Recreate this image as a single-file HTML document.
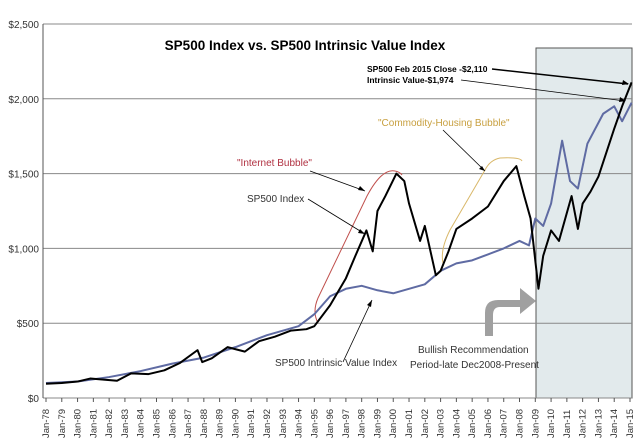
<!DOCTYPE html>
<html><head><meta charset="utf-8"><style>
body{margin:0;background:#fff}
svg{display:block;font-family:"Liberation Sans",sans-serif}
</style></head><body>
<svg id="c" width="640" height="440">
<rect x="0" y="0" width="640" height="440" fill="#fff"/>
<rect x="536" y="48" width="96" height="350" fill="#e2eaec" stroke="#555" stroke-width="1"/>
<g id="grid"></g>
<g id="axes"></g>
<path d="M485,343 L485,320 Q485,307 498,307 L520,307 L520,295 L536,308 L520,321 L520,314 L500,314 Q493,314 493,322 L493,343 Z" transform="translate(0,-7)" fill="#a0a0a0"/>
<path d="M318,323 Q312,312 318,298 L367,196 Q382,168 395,171 Q400,172 402,175" fill="none" stroke="#c0504d" stroke-width="1"/>
<path d="M443,263 Q440,250 450,230 L485,170 Q490,160 500,158 Q520,157 522,161" fill="none" stroke="#d9b86a" stroke-width="1"/>
<g id="series"></g>
<text x="305" y="50" text-anchor="middle" font-size="13.5" font-weight="bold">SP500 Index vs. SP500 Intrinsic Value Index</text>
<text x="237" y="166" font-size="10" fill="#b03040">"Internet Bubble"</text>
<text x="378" y="126" font-size="10" fill="#c8a040">"Commodity-Housing Bubble"</text>
<text x="247" y="202" font-size="10" fill="#333">SP500 Index</text>
<text x="275" y="366" font-size="10" fill="#333">SP500 Intrinsic Value Index</text>
<text x="418" y="353" font-size="10" fill="#333">Bullish Recommendation</text>
<text x="410" y="368" font-size="10" fill="#333">Period-late Dec2008-Present</text>
<text x="367" y="72" font-size="8.5" font-weight="bold">SP500 Feb 2015 Close -$2,110</text>
<text x="367" y="83" font-size="8.5" font-weight="bold">Intrinsic Value-$1,974</text>
<g stroke="#000" fill="none">
<line x1="310" y1="171" x2="365" y2="191" stroke-width="0.8"/>
<line x1="308" y1="199" x2="365" y2="234" stroke-width="0.8"/>
<line x1="343" y1="362" x2="372" y2="300" stroke-width="0.8"/>
<line x1="443" y1="130" x2="485" y2="171" stroke-width="0.8"/>
<line x1="492" y1="69" x2="628" y2="84" stroke-width="1.5"/>
<line x1="461" y1="80" x2="625" y2="101" stroke-width="0.8"/>
</g>
<g fill="#000">
<path d="M365,191 l-7,-1 l2,-4z"/><path d="M365,234 l-7,-1 l2,-4z"/><path d="M372,300 l-1,7 l-4,-2z"/><path d="M485,171 l-6,-2 l3,-3z"/><path d="M629,84 l-7,1 l1,-5z"/><path d="M626,101 l-7,1 l1,-5z"/>
</g>
</svg>
<script>
const yTicks=[0,500,1000,1500,2000,2500];
const yTickLabels=["$0","$500","$1,000","$1,500","$2,000","$2,500"];
const xYears=[78,79,80,81,82,83,84,85,86,87,88,89,90,91,92,93,94,95,96,97,98,99,0,1,2,3,4,5,6,7,8,9,10,11,12,13,14,15];
const spTimes=[1978,1979,1980,1980.8,1982.5,1983.4,1984.5,1985.5,1986.5,1987.6,1987.9,1988.5,1989.5,1990.6,1991.5,1992.5,1993.5,1994.5,1995,1996,1997,1997.6,1998.3,1998.7,1999,1999.5,2000.2,2000.7,2001,2001.7,2002,2002.7,2003,2003.5,2004,2005,2006,2007,2007.8,2008.3,2008.7,2009.2,2009.5,2010,2010.5,2011.3,2011.7,2012,2012.5,2013,2014,2014.5,2015.1];
const spValues=[95,100,110,130,115,165,160,185,235,320,240,265,340,310,380,410,450,460,480,620,800,950,1120,980,1250,1350,1500,1450,1300,1050,1150,820,850,980,1130,1200,1280,1450,1550,1350,1200,730,950,1120,1050,1350,1130,1300,1380,1480,1800,1950,2110];
const ivTimes=[1978,1980,1982,1984,1986,1988,1990,1992,1994,1995,1996,1997,1998,1999,2000,2001,2002,2003,2004,2005,2006,2007,2008,2008.6,2009,2009.5,2010,2010.5,2010.7,2011.2,2011.7,2012.3,2012.8,2013.3,2014,2014.5,2015.1];
const ivValues=[100,110,140,180,230,270,340,420,480,560,680,730,750,720,700,730,760,850,900,920,960,1000,1050,1020,1200,1150,1300,1600,1720,1450,1400,1700,1800,1900,1950,1850,1974];
const NS='http://www.w3.org/2000/svg';
const x=t=>46+(t-1978)*(630-46)/37;
const y=v=>398-v*374/2500;
function mk(tag,attrs,parent){const e=document.createElementNS(NS,tag);for(const k in attrs)e.setAttribute(k,attrs[k]);parent.appendChild(e);return e;}
const grid=document.getElementById('grid'),axes=document.getElementById('axes'),ser=document.getElementById('series');
yTicks.forEach((v,i)=>{
 const l=mk('line',{x1:43,x2:632,y1:y(v),y2:y(v),stroke:'#888','stroke-width':1},grid);
 
 
 const t=mk('text',{x:39,y:y(v)+4,'text-anchor':'end','font-size':10,fill:'#333'},axes);
 t.textContent=yTickLabels[i];
 
 
});
const ax=mk('line',{x1:43,x2:43,y1:24,y2:398,stroke:'#555'},axes);


xYears.forEach((yy,i)=>{
 const X=x(1978+i);
 mk('line',{x1:X,x2:X,y1:398,y2:402,stroke:'#555'},axes);
 const t=mk('text',{transform:`translate(${X+3},${438}) rotate(-90)`,'font-size':9.5,fill:'#333'},axes);
 t.textContent='Jan-'+String(yy).padStart(2,'0');
 
 
});
function line(ts,vs,color,w,name){
 const p=mk('polyline',{points:ts.map((t,i)=>x(t)+','+y(vs[i])).join(' '),fill:'none',stroke:color,'stroke-width':w,'stroke-linejoin':'round'},ser);
 
 
}
line(ivTimes,ivValues,'#5f6ba3',2,'intrinsic-value-line');
line(spTimes,spValues,'#000',2,'sp500-line');
</script>
</body></html>
